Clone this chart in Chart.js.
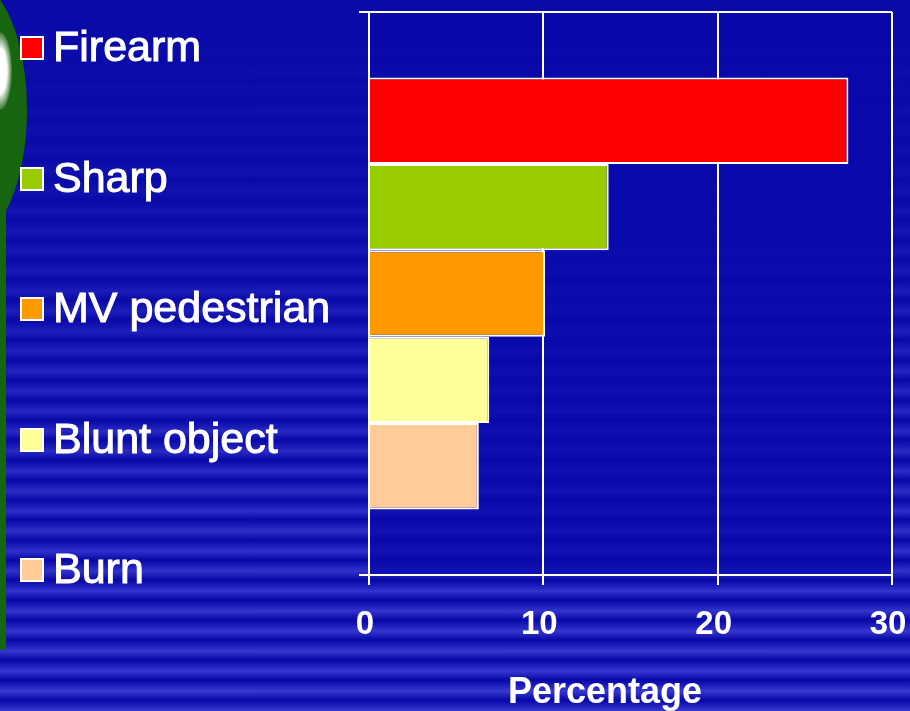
<!DOCTYPE html>
<html>
<head>
<meta charset="utf-8">
<title>Injury mechanism</title>
<script src="https://cdn.jsdelivr.net/npm/chart.js@4.4.1/dist/chart.umd.min.js"></script>
<style>
  html, body { margin: 0; padding: 0; }
  body {
    width: 910px; height: 711px; overflow: hidden; position: relative;
    font-family: "Liberation Sans", Arial, sans-serif;
    background:
      linear-gradient(to bottom, rgba(10,10,168,1) 0px, rgba(10,10,168,0.85) 180px, rgba(10,10,168,0.35) 430px, rgba(10,10,168,0) 711px),
      repeating-linear-gradient(to bottom, #0707a6 0px, #2a2ac6 8px, #3a3ad2 11px, #0707a6 20px);
  }
  #blob { position: absolute; left: -87px; top: -20px; width: 114px; height: 260px; border-radius: 50%; background: #17650f; }
  #strip { position: absolute; left: 0; top: 200px; width: 6px; height: 450px; background: #17650f; border-radius: 0 4px 4px 0; }
  #shine { position: absolute; left: -12px; top: 32px; width: 24px; height: 78px; border-radius: 50%; background: radial-gradient(ellipse at center, #ffffff 40%, rgba(255,255,255,0) 75%); }
  #wrap { position: absolute; left: 0; top: 0; width: 910px; height: 711px; }
  .item { position: absolute; left: 0; height: 48px; width: 350px; }
  .item .box { position: absolute; left: 20px; top: 14px; width: 20px; height: 20px; border: 2px solid #fff; }
  .item .txt { position: absolute; left: 53px; top: 0; line-height: 48px; font-size: 43px; color: #fff; white-space: nowrap; -webkit-text-stroke: 1px #fff; }
  #xtitle { position: absolute; left: 505px; top: 671px; width: 200px; text-align: center; line-height: 40px; font-size: 36px; font-weight: bold; color: #fff; }
</style>
</head>
<body>
<div id="blob"></div>
<div id="strip"></div>
<div id="shine"></div>
<div id="wrap"><canvas id="myChart" width="910" height="711"></canvas></div>
<div id="legend"></div>
<div id="xtitle">Percentage</div>

<script>
// data
var categories = ["Firearm", "Sharp", "MV pedestrian", "Blunt object", "Burn"];
var percentages = [27.5, 13.75, 10.1, 6.9, 6.3];
var colors = ["#ff0000", "#99cc00", "#ff9900", "#ffff99", "#ffcc99"];
var xTicks = [0, 10, 20, 30];
var axisTitle = "Percentage";

// legend on the left, built from the same arrays
var legend = document.getElementById("legend");
for (var i = 0; i < categories.length; i++) {
  var item = document.createElement("div");
  item.className = "item";
  item.style.top = (22 + i * 130.5) + "px";
  item.innerHTML = '<span class="box" style="background:' + colors[i] + '"></span><span class="txt">' + categories[i] + '</span>';
  legend.appendChild(item);
}
document.getElementById("xtitle").textContent = axisTitle;

var datasets = [];
for (var j = 0; j < categories.length; j++) {
  datasets.push({
    label: categories[j],
    data: [percentages[j]],
    backgroundColor: colors[j],
    borderColor: "#ffffff",
    borderWidth: 2,
    categoryPercentage: 0.767,
    barPercentage: 1
  });
}

// dark plot area behind the grid
var plotBg = {
  id: "plotBg",
  beforeDraw: function(chart) {
    var a = chart.chartArea;
    var c = chart.ctx;
    c.save();
    c.fillStyle = "rgba(8,8,172,0.75)";
    c.fillRect(a.left, a.top, a.right - a.left, a.bottom - a.top);
    c.restore();
  }
};

var ctx = document.getElementById("myChart").getContext("2d");
var mychart = new Chart(ctx, {
  type: "bar",
  data: { labels: [""], datasets: datasets },
  options: {
    indexAxis: "y",
    responsive: false,
    animation: false,
    layout: { padding: { left: 359, right: 18, top: 12, bottom: 65 } },
    plugins: { legend: { display: false }, tooltip: { enabled: false } },
    scales: {
      x: {
        min: 0,
        max: 30,
        afterBuildTicks: function(axis) {
          axis.ticks = xTicks.map(function(v) { return { value: v }; });
        },
        afterFit: function(axis) {
          // let the end labels hang over the edge like the original
          axis.paddingLeft = 0;
          axis.paddingRight = 0;
          axis.height = 71;
        },
        grid: { color: "#ffffff", lineWidth: 2, tickLength: 10, tickColor: "#ffffff" },
        border: { color: "#ffffff", width: 2 },
        ticks: {
          color: "#ffffff",
          padding: 20,
          labelOffset: -4,
          font: { family: "'Liberation Sans', Arial, sans-serif", size: 33, weight: "bold" }
        }
      },
      y: {
        afterFit: function(axis) { axis.width = 10; },
        grid: { color: "#ffffff", lineWidth: 2, tickLength: 10, offset: true },
        border: { color: "#ffffff", width: 2 },
        ticks: { display: false }
      }
    }
  },
  plugins: [plotBg]
});
</script>
</body>
</html>
